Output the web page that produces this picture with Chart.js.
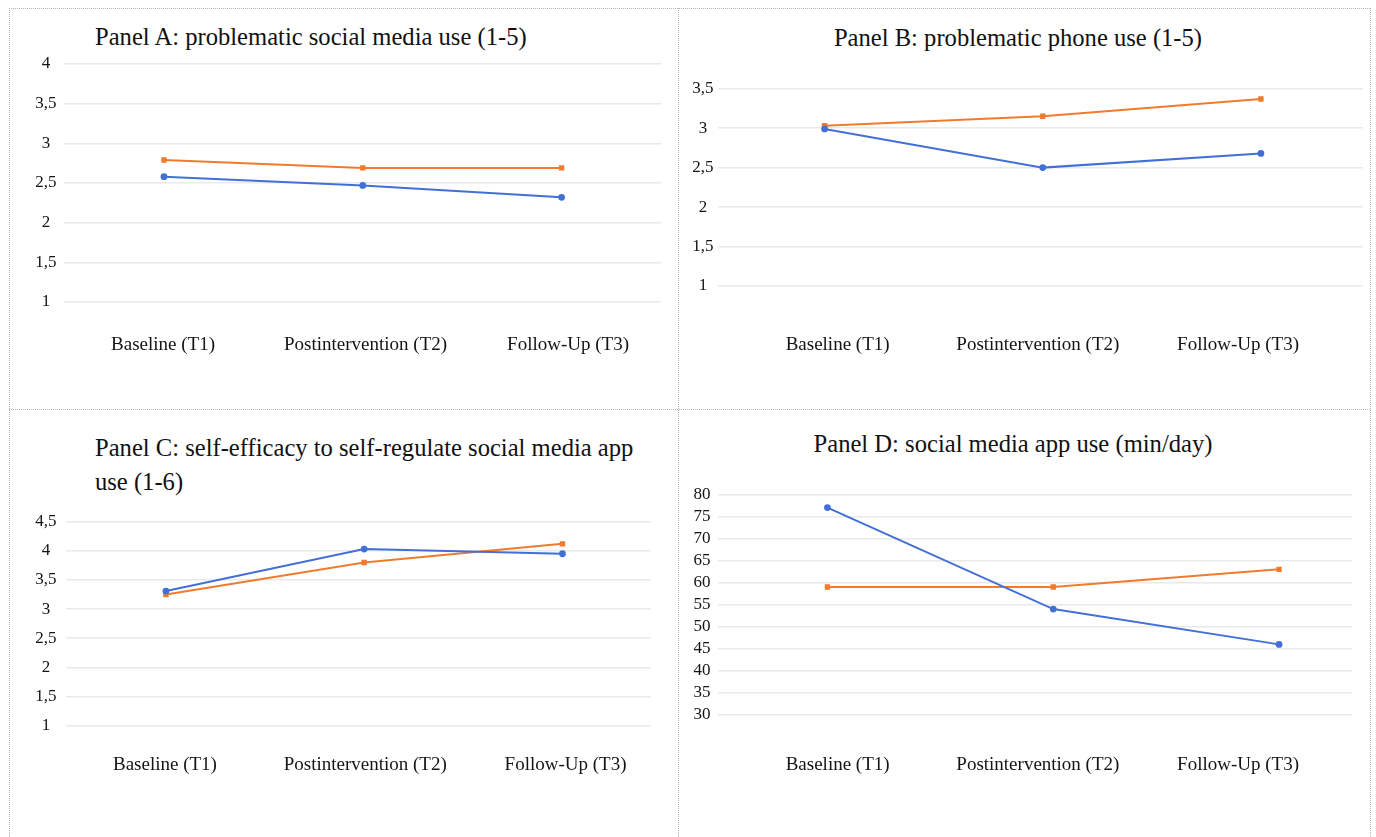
<!DOCTYPE html>
<html>
<head>
<meta charset="utf-8">
<script src="https://cdn.jsdelivr.net/npm/chart.js@4.4.1/dist/chart.umd.min.js"></script>
<style>
  html, body { margin: 0; padding: 0; background: #fff; }
  body { width: 1376px; height: 837px; position: relative; overflow: hidden;
         font-family: 'Liberation Serif', 'Times New Roman', serif; }
  canvas { position: absolute; }
  .title { position: absolute; font-size: 24.6px; line-height: 34px; color: #111; white-space: nowrap; }
  .hl { position: absolute; height: 0; border-top: 1px dotted #b5b5b5; }
  .vl { position: absolute; width: 0; border-left: 1px dotted #b5b5b5; }
</style>
</head>
<body>
<div class="hl" style="left:9px; top:8px; width:1361px;"></div>
<div class="hl" style="left:9px; top:409px; width:1361px;"></div>
<div class="vl" style="left:9px; top:8px; height:829px;"></div>
<div class="vl" style="left:678px; top:8px; height:829px;"></div>
<div class="vl" style="left:1370px; top:8px; height:829px;"></div>

<div class="title" style="left:95px; top:20px;">Panel A: problematic social media use (1-5)</div>
<div class="title" style="left:679px; width:678px; text-align:center; top:21px;">Panel B: problematic phone use (1-5)</div>
<div class="title" style="left:95px; top:431px;">Panel C: self-efficacy to self-regulate social media app<br>use (1-6)</div>
<div class="title" style="left:679px; width:668px; text-align:center; top:427px;">Panel D: social media app use (min/day)</div>

<canvas id="cA" width="668" height="400" style="left:10px; top:9px;"></canvas>
<canvas id="cB" width="690" height="400" style="left:679px; top:9px;"></canvas>
<canvas id="cC" width="668" height="427" style="left:10px; top:410px;"></canvas>
<canvas id="cD" width="690" height="427" style="left:679px; top:410px;"></canvas>

<script>
// ---- data ----
const categories = ['Baseline (T1)', 'Postintervention (T2)', 'Follow-Up (T3)'];

const panelA_orange = [2.79, 2.69, 2.69];
const panelA_blue   = [2.58, 2.47, 2.32];
const panelA_ticks  = [1, 1.5, 2, 2.5, 3, 3.5, 4];

const panelB_orange = [3.03, 3.15, 3.37];
const panelB_blue   = [2.99, 2.50, 2.68];
const panelB_ticks  = [1, 1.5, 2, 2.5, 3, 3.5];

const panelC_orange = [3.25, 3.80, 4.12];
const panelC_blue   = [3.31, 4.03, 3.95];
const panelC_ticks  = [1, 1.5, 2, 2.5, 3, 3.5, 4, 4.5];

const panelD_orange = [59, 59, 63];
const panelD_blue   = [77, 54, 46];
const panelD_ticks  = [30, 35, 40, 45, 50, 55, 60, 65, 70, 75, 80];

// ---- styling ----
const BLUE = '#4270d6';
const ORANGE = '#f07b2e';
const FONT = "'Liberation Serif', 'Times New Roman', serif";
const GRID = 'rgba(0,0,0,0.085)';

function fmt(v) { return String(v).replace('.', ','); }

function makeChart(id, blue, orange, yTicks, L) {
  const ctx = document.getElementById(id);
  const ds = (vals, color, style) => ({
    data: vals.map((y, i) => ({ x: i, y: y })),
    xAxisID: 'xp',
    yAxisID: 'y',
    borderColor: color,
    backgroundColor: color,
    borderWidth: 2,
    pointRadius: 2.4,
    pointHoverRadius: 2.4,
    pointStyle: style,
    tension: 0
  });
  return new Chart(ctx, {
    type: 'line',
    data: { datasets: [ds(blue, BLUE, 'circle'), ds(orange, ORANGE, 'rect')] },
    options: {
      responsive: false,
      animation: false,
      events: [],
      layout: { padding: L.pad },
      plugins: { legend: { display: false }, title: { display: false }, tooltip: { enabled: false } },
      scales: {
        xp: {
          type: 'linear', display: false, position: 'bottom',
          min: L.pmin, max: L.pmax
        },
        x: {
          type: 'linear', position: 'bottom',
          min: L.lmin, max: L.lmax,
          grid: { display: false, drawTicks: false },
          border: { display: false },
          afterBuildTicks: (ax) => { ax.ticks = categories.map((c, i) => ({ value: i })); },
          afterFit: (ax) => { ax.height = L.xh; },
          ticks: {
            padding: L.xpad,
            maxRotation: 0, autoSkip: false,
            color: '#141414',
            font: { family: FONT, size: 19 },
            callback: (v) => categories[v]
          }
        },
        y: {
          type: 'linear', position: 'left',
          min: yTicks[0], max: yTicks[yTicks.length - 1],
          afterBuildTicks: (ax) => { ax.ticks = yTicks.map(v => ({ value: v })); },
          afterFit: (ax) => { ax.width = L.yw; },
          grid: { color: GRID, lineWidth: 1.6, drawTicks: false },
          border: { display: false },
          ticks: {
            autoSkip: false,
            padding: L.ypad,
            crossAlign: 'center',
            color: '#141414',
            font: { family: FONT, size: 17 },
            callback: (v) => fmt(v)
          }
        }
      }
    }
  });
}

makeChart('cA', panelA_blue, panelA_orange, panelA_ticks, {
  pad: { left: 14, right: 17, top: 55, bottom: 47 }, yw: 40, ypad: 7.5, xh: 60, xpad: 31.6,
  pmin: -0.503, pmax: 2.5, lmin: -0.489, lmax: 2.459
});
makeChart('cB', panelB_blue, panelB_orange, panelB_ticks, {
  pad: { left: 4.7, right: 6, top: 79.7, bottom: 43 }, yw: 34, ypad: 4.2, xh: 80, xpad: 47.6,
  pmin: -0.49, pmax: 2.468, lmin: -0.599, lmax: 2.624
});
makeChart('cC', panelC_blue, panelC_orange, panelC_ticks, {
  pad: { left: 16, right: 27.5, top: 111.7, bottom: 51.3 }, yw: 40, ypad: 9.5, xh: 60, xpad: 27.9,
  pmin: -0.504, pmax: 2.444, lmin: -0.494, lmax: 2.424
});
makeChart('cD', panelD_blue, panelD_orange, panelD_ticks, {
  pad: { left: 4.7, right: 17, top: 84.3, bottom: 52 }, yw: 34, ypad: 7.2, xh: 70, xpad: 38.6,
  pmin: -0.486, pmax: 2.323, lmin: -0.599, lmax: 2.569
});
</script>
</body>
</html>
